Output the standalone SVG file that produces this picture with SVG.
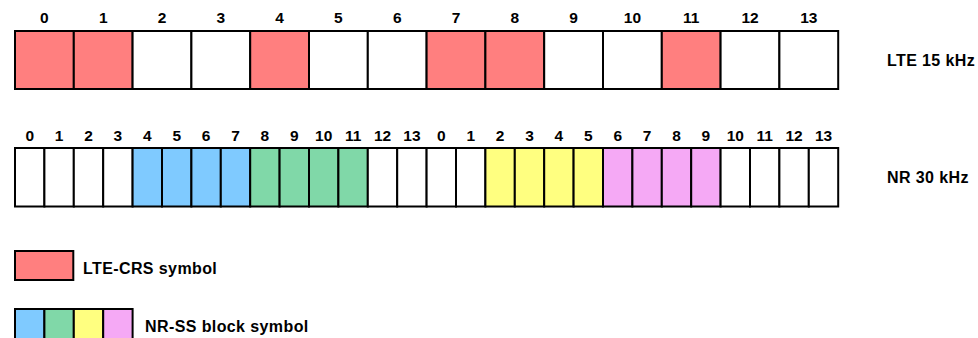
<svg xmlns="http://www.w3.org/2000/svg" width="978" height="338" viewBox="0 0 978 338">
<style>
.c{stroke:#000;stroke-width:2}
.w{fill:#fff}.r{fill:#ff7f7f}.b{fill:#7fcaff}.g{fill:#80d8a8}.y{fill:#ffff80}.p{fill:#f5a9f5}
text{font-family:"Liberation Sans",Arial,sans-serif;font-weight:bold;font-size:16px;fill:#000}
.n{text-anchor:middle;font-size:15.5px}
.l{letter-spacing:0.4px}
</style>
<rect x="0" y="0" width="978" height="338" fill="#fff"/>
<g id="lte-row">
<g id="lte0"><rect class="c r" x="15" y="31" width="58.8" height="58"/><text class="n" x="44.4" y="23">0</text></g>
<g id="lte1"><rect class="c r" x="73.8" y="31" width="58.8" height="58"/><text class="n" x="103.2" y="23">1</text></g>
<g id="lte2"><rect class="c w" x="132.6" y="31" width="58.8" height="58"/><text class="n" x="162" y="23">2</text></g>
<g id="lte3"><rect class="c w" x="191.4" y="31" width="58.8" height="58"/><text class="n" x="220.8" y="23">3</text></g>
<g id="lte4"><rect class="c r" x="250.2" y="31" width="58.8" height="58"/><text class="n" x="279.6" y="23">4</text></g>
<g id="lte5"><rect class="c w" x="309" y="31" width="58.8" height="58"/><text class="n" x="338.4" y="23">5</text></g>
<g id="lte6"><rect class="c w" x="367.8" y="31" width="58.8" height="58"/><text class="n" x="397.2" y="23">6</text></g>
<g id="lte7"><rect class="c r" x="426.6" y="31" width="58.8" height="58"/><text class="n" x="456" y="23">7</text></g>
<g id="lte8"><rect class="c r" x="485.4" y="31" width="58.8" height="58"/><text class="n" x="514.8" y="23">8</text></g>
<g id="lte9"><rect class="c w" x="544.2" y="31" width="58.8" height="58"/><text class="n" x="573.6" y="23">9</text></g>
<g id="lte10"><rect class="c w" x="603" y="31" width="58.8" height="58"/><text class="n" x="632.4" y="23">10</text></g>
<g id="lte11"><rect class="c r" x="661.8" y="31" width="58.8" height="58"/><text class="n" x="691.2" y="23">11</text></g>
<g id="lte12"><rect class="c w" x="720.6" y="31" width="58.8" height="58"/><text class="n" x="750" y="23">12</text></g>
<g id="lte13"><rect class="c w" x="779.4" y="31" width="58.8" height="58"/><text class="n" x="808.8" y="23">13</text></g>
<text id="lte-label" class="l" x="887" y="66">LTE 15 kHz</text>
</g>
<g id="nr-row">
<g id="nr0"><rect class="c w" x="15" y="148" width="29.4" height="58.5"/><text class="n" x="29.7" y="141">0</text></g>
<g id="nr1"><rect class="c w" x="44.4" y="148" width="29.4" height="58.5"/><text class="n" x="59.1" y="141">1</text></g>
<g id="nr2"><rect class="c w" x="73.8" y="148" width="29.4" height="58.5"/><text class="n" x="88.5" y="141">2</text></g>
<g id="nr3"><rect class="c w" x="103.2" y="148" width="29.4" height="58.5"/><text class="n" x="117.9" y="141">3</text></g>
<g id="nr4"><rect class="c b" x="132.6" y="148" width="29.4" height="58.5"/><text class="n" x="147.3" y="141">4</text></g>
<g id="nr5"><rect class="c b" x="162" y="148" width="29.4" height="58.5"/><text class="n" x="176.7" y="141">5</text></g>
<g id="nr6"><rect class="c b" x="191.4" y="148" width="29.4" height="58.5"/><text class="n" x="206.1" y="141">6</text></g>
<g id="nr7"><rect class="c b" x="220.8" y="148" width="29.4" height="58.5"/><text class="n" x="235.5" y="141">7</text></g>
<g id="nr8"><rect class="c g" x="250.2" y="148" width="29.4" height="58.5"/><text class="n" x="264.9" y="141">8</text></g>
<g id="nr9"><rect class="c g" x="279.6" y="148" width="29.4" height="58.5"/><text class="n" x="294.3" y="141">9</text></g>
<g id="nr10"><rect class="c g" x="309" y="148" width="29.4" height="58.5"/><text class="n" x="323.7" y="141">10</text></g>
<g id="nr11"><rect class="c g" x="338.4" y="148" width="29.4" height="58.5"/><text class="n" x="353.1" y="141">11</text></g>
<g id="nr12"><rect class="c w" x="367.8" y="148" width="29.4" height="58.5"/><text class="n" x="382.5" y="141">12</text></g>
<g id="nr13"><rect class="c w" x="397.2" y="148" width="29.4" height="58.5"/><text class="n" x="411.9" y="141">13</text></g>
<g id="nr14"><rect class="c w" x="426.6" y="148" width="29.4" height="58.5"/><text class="n" x="441.3" y="141">0</text></g>
<g id="nr15"><rect class="c w" x="456" y="148" width="29.4" height="58.5"/><text class="n" x="470.7" y="141">1</text></g>
<g id="nr16"><rect class="c y" x="485.4" y="148" width="29.4" height="58.5"/><text class="n" x="500.1" y="141">2</text></g>
<g id="nr17"><rect class="c y" x="514.8" y="148" width="29.4" height="58.5"/><text class="n" x="529.5" y="141">3</text></g>
<g id="nr18"><rect class="c y" x="544.2" y="148" width="29.4" height="58.5"/><text class="n" x="558.9" y="141">4</text></g>
<g id="nr19"><rect class="c y" x="573.6" y="148" width="29.4" height="58.5"/><text class="n" x="588.3" y="141">5</text></g>
<g id="nr20"><rect class="c p" x="603" y="148" width="29.4" height="58.5"/><text class="n" x="617.7" y="141">6</text></g>
<g id="nr21"><rect class="c p" x="632.4" y="148" width="29.4" height="58.5"/><text class="n" x="647.1" y="141">7</text></g>
<g id="nr22"><rect class="c p" x="661.8" y="148" width="29.4" height="58.5"/><text class="n" x="676.5" y="141">8</text></g>
<g id="nr23"><rect class="c p" x="691.2" y="148" width="29.4" height="58.5"/><text class="n" x="705.9" y="141">9</text></g>
<g id="nr24"><rect class="c w" x="720.6" y="148" width="29.4" height="58.5"/><text class="n" x="735.3" y="141">10</text></g>
<g id="nr25"><rect class="c w" x="750" y="148" width="29.4" height="58.5"/><text class="n" x="764.7" y="141">11</text></g>
<g id="nr26"><rect class="c w" x="779.4" y="148" width="29.4" height="58.5"/><text class="n" x="794.1" y="141">12</text></g>
<g id="nr27"><rect class="c w" x="808.8" y="148" width="29.4" height="58.5"/><text class="n" x="823.5" y="141">13</text></g>
<text id="nr-label" class="l" x="887" y="183">NR 30 kHz</text>
</g>
<g id="legend-crs">
<rect class="c r" x="15" y="251" width="58.3" height="29"/>
<text class="l" x="83" y="274">LTE-CRS symbol</text>
</g>
<g id="legend-ss">
<rect class="c b" x="15" y="309" width="29.4" height="30"/>
<rect class="c g" x="44.4" y="309" width="29.4" height="30"/>
<rect class="c y" x="73.8" y="309" width="29.4" height="30"/>
<rect class="c p" x="103.2" y="309" width="29.4" height="30"/>
<text class="l" x="145" y="332">NR-SS block symbol</text>
</g>
</svg>
